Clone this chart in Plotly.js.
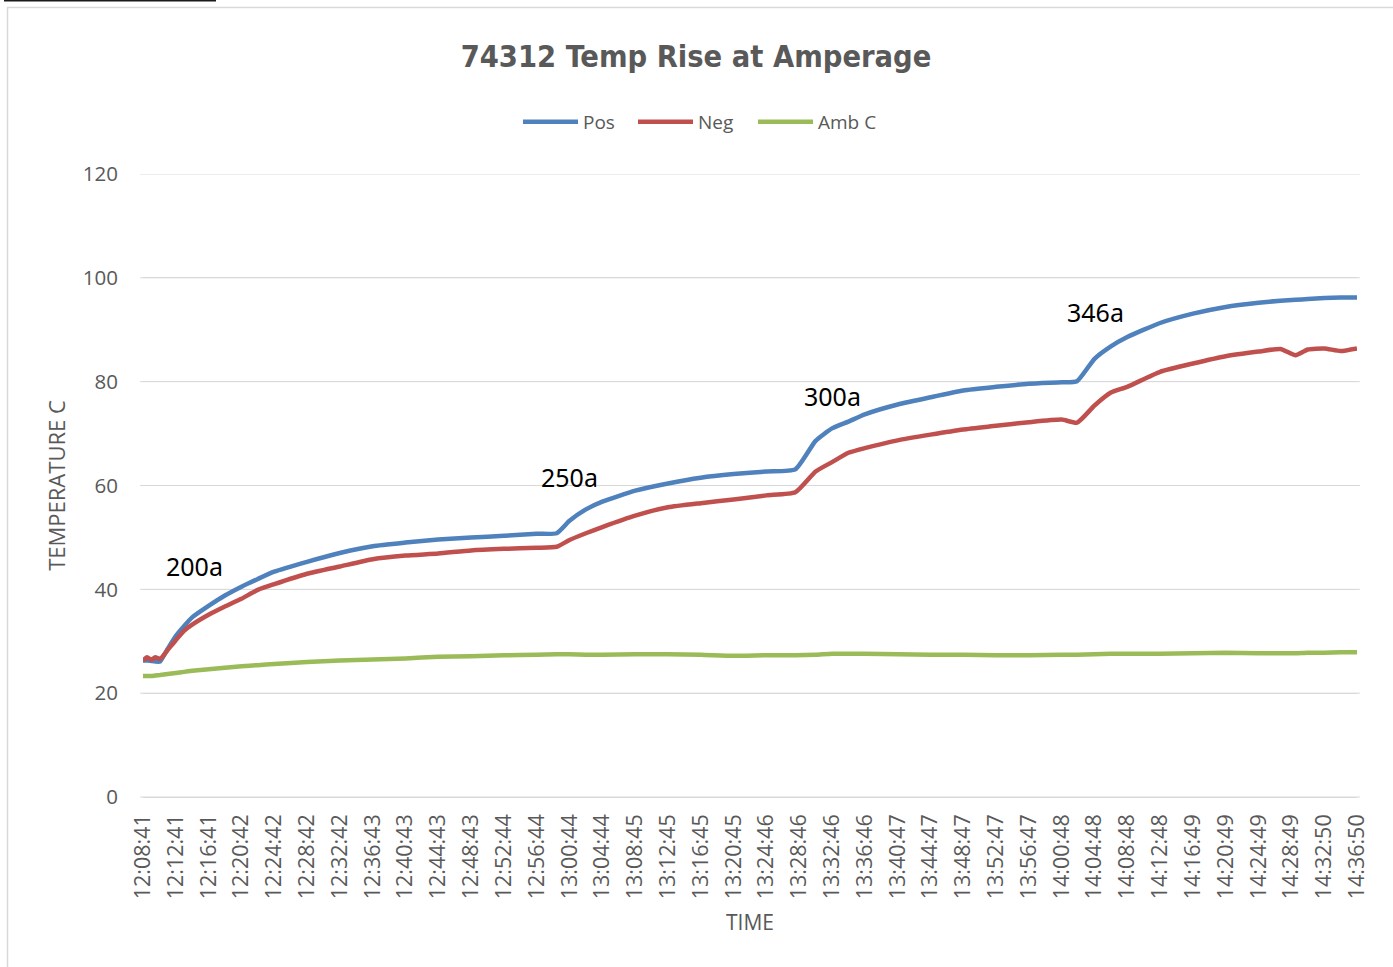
<!DOCTYPE html>
<html>
<head>
<meta charset="utf-8">
<script src="https://cdn.plot.ly/plotly-3.0.1.min.js"></script>
<style>
html,body{margin:0;padding:0;background:#fff;}
#chart{width:1393px;height:967px;}
</style>
</head>
<body>
<div id="chart"></div>
<script>
// sample times (HH:MM:SS)
const times = ["12:08:41","12:09:11","12:09:41","12:10:11","12:10:46","12:11:41","12:12:41","12:13:41","12:14:41","12:16:41",
"12:18:41","12:20:42","12:22:42","12:24:42","12:28:42","12:32:42","12:36:43","12:40:43","12:44:43","12:48:43",
"12:52:44","12:56:44","12:59:10","13:00:44","13:02:44","13:04:44","13:08:45","13:12:45","13:16:45","13:20:45",
"13:24:46","13:28:17","13:30:46","13:32:46","13:34:46","13:36:46","13:40:47","13:44:47","13:48:47","13:52:47",
"13:56:47","14:00:48","14:02:40","14:04:48","14:06:48","14:08:48","14:12:48","14:16:49","14:20:49","14:24:49",
"14:27:30","14:29:20","14:30:50","14:32:50","14:34:50","14:36:50"];

const pos = [26.3,26.3,26.2,26.1,26.1,28.5,31.0,32.9,34.6,36.8,
38.8,40.5,42.0,43.4,45.3,47.0,48.3,49.0,49.6,50.0,
50.3,50.7,50.8,53.2,55.4,56.9,59.0,60.4,61.5,62.2,
62.7,63.1,68.6,71.0,72.3,73.7,75.6,77.0,78.3,79.0,
79.6,79.9,80.1,84.4,86.8,88.6,91.3,93.1,94.4,95.2,
95.6,95.8,95.9,96.1,96.2,96.2];

const neg = [26.3,26.9,26.4,26.9,26.6,28.3,30.2,32.0,33.2,35.1,
36.7,38.2,39.9,41.0,43.0,44.4,45.8,46.5,46.9,47.5,
47.8,48.0,48.2,49.5,50.8,52.0,54.2,55.8,56.6,57.3,
58.1,58.7,62.7,64.5,66.3,67.2,68.7,69.8,70.8,71.5,
72.2,72.7,72.1,75.4,77.9,79.0,81.9,83.5,84.9,85.8,
86.3,85.1,86.2,86.4,85.9,86.4];

const amb = [23.3,23.3,23.3,23.4,23.5,23.7,23.9,24.1,24.3,24.6,
24.9,25.2,25.4,25.6,26.0,26.3,26.5,26.7,27.0,27.1,
27.3,27.4,27.5,27.5,27.4,27.4,27.5,27.5,27.4,27.2,
27.3,27.3,27.4,27.6,27.6,27.6,27.5,27.4,27.4,27.3,
27.3,27.4,27.4,27.5,27.6,27.6,27.6,27.7,27.8,27.7,
27.7,27.7,27.8,27.8,27.9,27.9];

const tickLabels = ["12:08:41","12:12:41","12:16:41","12:20:42","12:24:42","12:28:42","12:32:42","12:36:43",
"12:40:43","12:44:43","12:48:43","12:52:44","12:56:44","13:00:44","13:04:44","13:08:45","13:12:45","13:16:45",
"13:20:45","13:24:46","13:28:46","13:32:46","13:36:46","13:40:47","13:44:47","13:48:47","13:52:47","13:56:47",
"14:00:48","14:04:48","14:08:48","14:12:48","14:16:49","14:20:49","14:24:49","14:28:49","14:32:50","14:36:50"];

const seriesNames = ["Pos","Neg","Amb C"];
const labelText = ["200a","250a","300a","346a"];
const labelTime = ["12:15:01","13:00:44","13:32:46","14:04:55"];
const labelTemp = [44.4,61.7,77.3,93.5];

const day = "2000-01-01 ";
const toDate = t => day + t;
const X = times.map(toDate);

const colors = ["#4F81BD","#C0504D","#9BBB59"];
const legendIds = ["legend","legend2","legend3"];
const vals = [pos, neg, amb];
const traces = vals.map((v,i)=>({
  type:"scatter", mode:"lines", name:seriesNames[i], x:X, y:v, legend:legendIds[i],
  line:{color:colors[i], width:4.5, shape:"spline", smoothing:0.5}, hoverinfo:"skip"
}));

const W=1393, H=967;
const m = {l:143, r:36, t:174, b:170};
const pw = W-m.l-m.r, ph = H-m.t-m.b;
const px = v => (v-m.l)/pw;
const py = v => 1-(v-m.t)/ph;

const font = "Open Sans, Noto Sans, sans-serif";
const gray = "#595959";

const legendLeft = [518, 633, 753];
const mkLegend = left => ({orientation:"h", x:px(left), xanchor:"left", y:py(122), yanchor:"middle",
    font:{family:font, size:19, color:gray}, itemwidth:55, bgcolor:"rgba(0,0,0,0)"});

const layout = {
  width:W, height:H, margin:m, paper_bgcolor:"#fff", plot_bgcolor:"#fff",
  showlegend:true,
  title:{text:"74312 Temp Rise at Amperage", x:696/W, xref:"container", xanchor:"center", y:1-56/H, yanchor:"middle",
    font:{family:"Liberation Sans Narrow, DejaVu Sans Condensed, Open Sans, sans-serif", size:30.5, color:gray, weight:"bold"}},
  legend:mkLegend(legendLeft[0]),
  legend2:mkLegend(legendLeft[1]),
  legend3:mkLegend(legendLeft[2]),
  xaxis:{type:"date", range:[toDate("12:08:41"), toDate("14:36:50")],
    tickmode:"array", tickvals:tickLabels.map(toDate), ticktext:tickLabels, tickangle:-90,
    tickfont:{family:font, size:21.5, color:gray}, ticks:"", ticklabelstandoff:12,
    showgrid:false, zeroline:false, showline:false,
    title:{text:"TIME", font:{family:font, size:21, color:gray}, standoff:16}},
  yaxis:{range:[0,120], dtick:20, tick0:0, showgrid:true, gridcolor:"#d9d9d9", gridwidth:1,
    zeroline:true, zerolinecolor:"#d9d9d9", zerolinewidth:1, showline:false, ticks:"",
    tickfont:{family:font, size:20.5, color:gray}, ticklabelstandoff:24,
    title:{text:"TEMPERATURE C", font:{family:font, size:22, color:gray}, standoff:11}},
  annotations: labelText.map((t,i)=>({text:t, x:toDate(labelTime[i]), y:labelTemp[i], xref:"x", yref:"y",
    showarrow:false, font:{family:"Noto Sans, Open Sans, sans-serif", size:25, color:"#000"}})),
  shapes:[
    {type:"rect", xref:"paper", yref:"paper", x0:px(7.5), x1:px(1398), y0:py(7.5), y1:py(975),
     line:{color:"#d9d9d9", width:1.5}, fillcolor:"rgba(0,0,0,0)", layer:"below"},
    {type:"line", xref:"paper", yref:"paper", x0:px(4), x1:px(216), y0:py(0.5), y1:py(0.5),
     line:{color:"#1a1a1a", width:2}},
    {type:"line", xref:"paper", yref:"paper", x0:px(140), x1:px(1360), y0:0, y1:0,
     line:{color:"#d9d9d9", width:1}, layer:"below"}
  ]
};

for (let g=20; g<=120; g+=20) {
  layout.shapes.push({type:"line", xref:"paper", yref:"y", x0:px(140), x1:px(1360), y0:g, y1:g,
    line:{color:"#d9d9d9", width:1}, layer:"below"});
}

Plotly.newPlot("chart", traces, layout, {staticPlot:true, displayModeBar:false});
</script>
</body>
</html>
